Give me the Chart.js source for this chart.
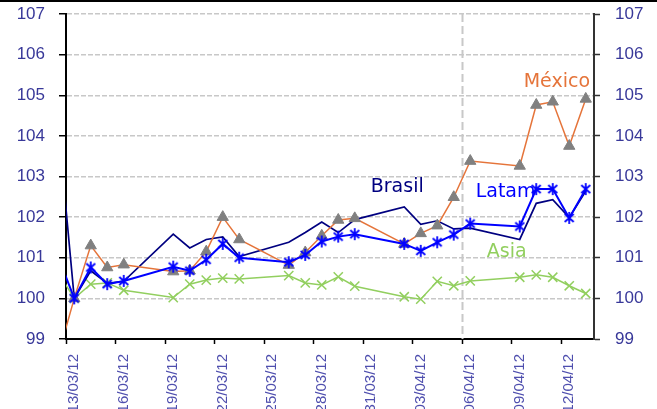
<!DOCTYPE html>
<html>
<head>
<meta charset="utf-8">
<script src="https://cdn.jsdelivr.net/npm/chart.js@4.4.1/dist/chart.umd.min.js"></script>
<style>
  html, body { margin: 0; padding: 0; background: #fff; overflow: hidden; }
  #wrap { position: relative; width: 657px; height: 409px; }
</style>
</head>
<body>
<div id="wrap"><canvas id="c" width="657" height="409"></canvas></div>
<script>
// Trading days (dd/mm/yy), index base 13/03/12 = 100
const dates = ['12/03/12','13/03/12','14/03/12','15/03/12','16/03/12',
  '19/03/12','20/03/12','21/03/12','22/03/12','23/03/12',
  '26/03/12','27/03/12','28/03/12','29/03/12','30/03/12',
  '02/04/12','03/04/12','04/04/12','05/04/12','06/04/12',
  '09/04/12','10/04/12','11/04/12','12/04/12','13/04/12'];

const mexico = [98.55, 100.00, 101.30, 100.76, 100.83,
  100.66, 100.68, 101.15, 102.00, 101.45,
  100.82, 101.13, 101.54, 101.93, 101.97,
  101.34, 101.60, 101.79, 102.49, 103.38,
  103.26, 104.76, 104.84, 103.75, 104.91];

const brasil = [104.40, 100.00, 100.68, 100.37, 100.42,
  101.58, 101.24, 101.45, 101.51, 101.03,
  101.38, 101.62, 101.88, 101.62, 101.94,
  102.25, 101.82, 101.91, 101.71, 101.73,
  101.45, 102.34, 102.43, 101.99, 102.64];

const latam = [101.05, 100.00, 100.76, 100.35, 100.43,
  100.78, 100.68, 100.95, 101.34, 101.00,
  100.89, 101.07, 101.40, 101.52, 101.58,
  101.34, 101.17, 101.38, 101.57, 101.84,
  101.77, 102.69, 102.69, 101.98, 102.69];

const asia = [100.65, 100.00, 100.35, 100.38, 100.20,
  100.02, 100.35, 100.45, 100.50, 100.48,
  100.56, 100.38, 100.33, 100.53, 100.30,
  100.04, 99.98, 100.42, 100.31, 100.43,
  100.52, 100.58, 100.52, 100.31, 100.12];

const tickDates = ['13/03/12','16/03/12','19/03/12','22/03/12','25/03/12','28/03/12',
  '31/03/12','03/04/12','06/04/12','09/04/12','12/04/12'];
const yTicks = [99, 100, 101, 102, 103, 104, 105, 106, 107];
const seriesNames = ['México', 'Brasil', 'Latam', 'Asia'];
const markerDate = '06/04/12';

// Days elapsed since the start of 13/03/12
function dayIndex(s) {
  const [d, m, y] = s.split('/').map(Number);
  return (Date.UTC(2000 + y, m - 1, d) - Date.UTC(2012, 2, 13)) / 86400000;
}
// each trading day is plotted in the middle of its one-day slot
const toPoints = vals => vals.map((v, i) => ({ x: dayIndex(dates[i]) + 0.5, y: v }));

// asterisk marker (x plus vertical bar)
function asteriskMarker(color) {
  const c = document.createElement('canvas');
  c.width = 14; c.height = 14;
  const g = c.getContext('2d');
  g.strokeStyle = color; g.lineWidth = 1.8;
  g.beginPath();
  g.moveTo(7, 1); g.lineTo(7, 13);
  g.moveTo(2.5, 3); g.lineTo(11.5, 11);
  g.moveTo(11.5, 3); g.lineTo(2.5, 11);
  g.stroke();
  return c;
}

const COL = {
  mexLine: '#E5743A', mexMark: '#808080', mexText: '#E5743A',
  brasil: '#000080', latam: '#0000FF', asia: '#92CF5F',
  yTick: '#383899', xTick: '#4F4FAE', grid: '#C8C8C8'
};

const seriesText = [
  { text: seriesNames[0], day: 27.74, value: 105.20, color: COL.mexText },
  { text: seriesNames[1], day: 18.47, value: 102.62, color: COL.brasil },
  { text: seriesNames[2], day: 24.83, value: 102.50, color: COL.latam },
  { text: seriesNames[3], day: 25.50, value: 101.02, color: COL.asia }
];

const overlay = {
  id: 'overlay',
  beforeDraw(chart) {
    const ctx = chart.ctx;
    ctx.save();
    ctx.fillStyle = '#000';
    ctx.fillRect(0, 0, chart.width, 2);
    ctx.restore();
  },
  beforeDatasetsDraw(chart) {
    const { ctx, chartArea: a, scales: { x } } = chart;
    const px = Math.round(x.getPixelForValue(dayIndex(markerDate))) + 0.5;
    ctx.save();
    ctx.strokeStyle = COL.grid;
    ctx.lineWidth = 2;
    ctx.setLineDash([8, 4]);
    ctx.beginPath();
    ctx.moveTo(px, a.top);
    ctx.lineTo(px, a.bottom);
    ctx.stroke();
    ctx.restore();
  },
  afterDatasetsDraw(chart) {
    const { ctx, scales: { x, y } } = chart;
    ctx.save();
    ctx.font = '19px "DejaVu Sans"';
    ctx.textAlign = 'left';
    ctx.textBaseline = 'alphabetic';
    seriesText.forEach(t => {
      ctx.fillStyle = t.color;
      ctx.fillText(t.text, x.getPixelForValue(t.day), y.getPixelForValue(t.value));
    });
    ctx.restore();
  }
};

const yTickOpts = {
  color: COL.yTick,
  font: { family: '"Liberation Sans", Arial, sans-serif', size: 17 },
  stepSize: 1
};

// vertical axes: fixed width, no extra room reserved above/below the plot
const fitVertical = w => s => { s.width = w; s.paddingTop = 0; s.paddingBottom = 0; };

new Chart(document.getElementById('c'), {
  type: 'line',
  data: {
    datasets: [
      { label: seriesNames[2], data: toPoints(latam), order: 0,
        borderColor: COL.latam, borderWidth: 2, tension: 0,
        pointStyle: asteriskMarker(COL.latam), pointRadius: 7 },
      { label: seriesNames[0], data: toPoints(mexico), order: 1,
        borderColor: COL.mexLine, borderWidth: 1.5, tension: 0,
        pointStyle: 'triangle', pointRadius: 6.5,
        pointBackgroundColor: COL.mexMark, pointBorderColor: COL.mexMark, pointBorderWidth: 1 },
      { label: seriesNames[1], data: toPoints(brasil), order: 2,
        borderColor: COL.brasil, borderWidth: 1.7, tension: 0, pointRadius: 0 },
      { label: seriesNames[3], data: toPoints(asia), order: 3,
        borderColor: COL.asia, borderWidth: 1.5, tension: 0,
        pointStyle: 'crossRot', pointRadius: 6.5,
        pointBorderColor: COL.asia, pointBorderWidth: 1.5 }
    ]
  },
  options: {
    responsive: false,
    animation: false,
    devicePixelRatio: 1,
    layout: { padding: { top: 14, left: 0, right: 0, bottom: 0 } },
    plugins: { legend: { display: false }, tooltip: { enabled: false } },
    scales: {
      x: {
        type: 'linear', min: 0, max: 32,
        afterBuildTicks: s => { s.ticks = tickDates.map(d => ({ value: dayIndex(d) })); },
        afterFit: s => { s.height = 70; s.paddingLeft = 0; s.paddingRight = 0; },
        ticks: {
          autoSkip: false, maxRotation: 90, minRotation: 90,
          labelOffset: 8.25, padding: 10,
          color: COL.xTick,
          font: { family: '"Liberation Sans", Arial, sans-serif', size: 15 },
          callback: (v, i) => tickDates[i]
        },
        grid: { drawOnChartArea: false, drawTicks: true, tickLength: 5, tickColor: '#000', tickWidth: 1.5 },
        border: { color: '#000', width: 2 }
      },
      y: {
        position: 'left', min: 99, max: 107,
        afterBuildTicks: s => { s.ticks = yTicks.map(v => ({ value: v })); },
        afterFit: fitVertical(66),
        ticks: Object.assign({ padding: 14 }, yTickOpts),
        grid: { color: COL.grid, lineWidth: 1.5, tickLength: 7, tickColor: '#000', tickWidth: 1.5 },
        border: { color: '#000', width: 2, dash: [5, 2] }
      },
      y2: {
        position: 'right', min: 99, max: 107,
        afterBuildTicks: s => { s.ticks = yTicks.map(v => ({ value: v })); },
        afterFit: fitVertical(63),
        ticks: Object.assign({ padding: 15 }, yTickOpts),
        grid: { drawOnChartArea: false, tickLength: 6, tickColor: '#333', tickWidth: 1.5 },
        border: { color: '#333', width: 2 }
      }
    }
  },
  plugins: [overlay]
});
</script>
</body>
</html>
